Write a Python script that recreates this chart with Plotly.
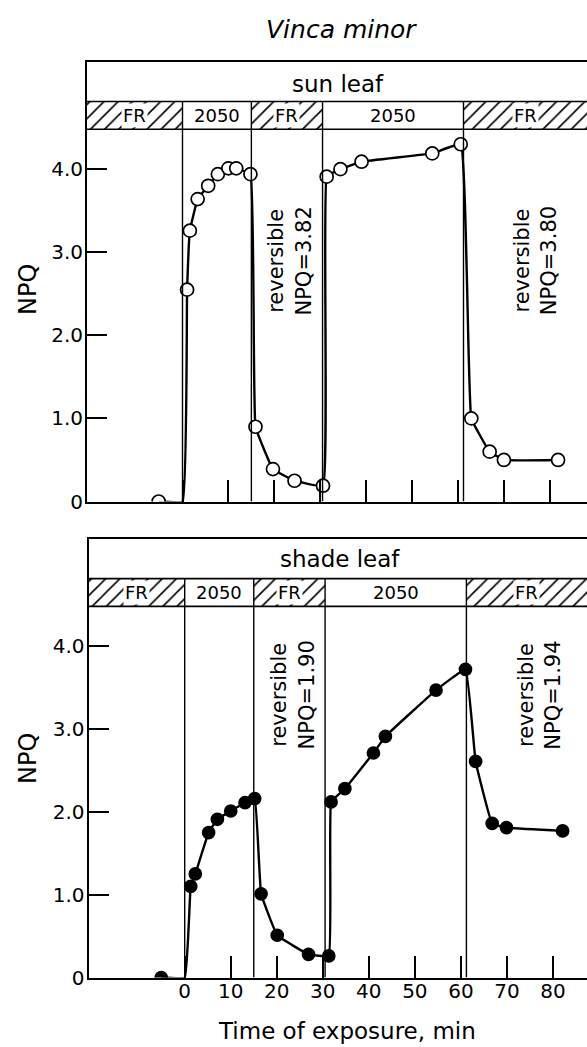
import plotly.graph_objects as go

# ---------------- data ----------------
sun_t = [-5.2, 1.0, 1.6, 3.3, 5.6, 7.7, 10.0, 11.7, 14.8, 15.9, 19.7, 24.4,
         30.6, 31.4, 34.4, 39.0, 54.4, 60.6, 62.9, 66.9, 70.0, 81.8]
sun_npq = [0.0, 2.55, 3.26, 3.64, 3.80, 3.94, 4.01, 4.01, 3.94, 0.90, 0.39, 0.25,
           0.19, 3.91, 4.00, 4.09, 4.19, 4.30, 1.00, 0.60, 0.50, 0.50]

shade_t = [-5.1, 1.3, 2.3, 5.2, 7.1, 10.0, 13.1, 15.2, 16.6, 20.1, 26.9, 31.3,
           31.8, 34.8, 41.0, 43.6, 54.6, 61.0, 63.2, 66.8, 69.9, 82.1]
shade_npq = [0.0, 1.10, 1.25, 1.75, 1.91, 2.01, 2.11, 2.16, 1.01, 0.51, 0.28, 0.26,
             2.12, 2.28, 2.71, 2.91, 3.47, 3.72, 2.61, 1.86, 1.81, 1.77]

# light switched on at t = 0 (curve leaves the baseline there)
onset_t = [0.0]
onset_npq = [0.0]

# light regime boundaries (min) and labels
phase_bounds = [0.0, 15.0, 30.5, 61.2]
phase_labels = ["FR", "2050", "FR", "2050", "FR"]
reversible = [["3.82", "3.80"], ["1.90", "1.94"]]

x_ticks = [0, 10, 20, 30, 40, 50, 60, 70, 80]
x_ticktext = ["0", "10", "20", "30", "40", "50", "60", "70", "80"]
y_ticks = [0, 1, 2, 3, 4]
y_ticktext = ["0", "1.0", "2.0", "3.0", "4.0"]

panel_titles = ["sun leaf", "shade leaf"]

# ---------------- layout helpers ----------------
W, H = 587, 1047
FONT = "DejaVu Sans"


def px(x):
    return x / W


def py(y):
    return 1 - y / H


Y_TOP = 5.29
BAND_LO, BAND_HI = 4.48, 4.815

panels = [
    dict(t=sun_t, v=sun_npq, xr=[-20.8, 88.1], dom_x=[87 / W, 1],
         dom_y=[py(501.5), py(62)], filled=False, xa="x", ya="y"),
    dict(t=shade_t, v=shade_npq, xr=[-20.9, 87.4], dom_x=[88.5 / W, 1],
         dom_y=[py(977.5), py(539.3)], filled=True, xa="x2", ya="y2"),
]

fig = go.Figure()
shapes = []
annotations = []

for i, p in enumerate(panels):
    xa, ya = p["xa"], p["ya"]
    lo, hi = p["xr"]
    edges = [lo] + phase_bounds + [hi]
    # band segments
    for k, lab in enumerate(phase_labels):
        a, b = edges[k], edges[k + 1]
        if lab == "FR":
            fig.add_trace(go.Scatter(
                x=[a, b, b, a, a], y=[BAND_LO, BAND_LO, BAND_HI, BAND_HI, BAND_LO],
                xaxis=xa, yaxis=ya, mode="lines", line=dict(width=0),
                fill="toself", fillcolor="white",
                fillpattern=dict(shape="/", size=10, solidity=0.16,
                                 fgcolor="black", bgcolor="white", fillmode="replace"),
                hoverinfo="skip", showlegend=False))
        annotations.append(dict(
            x=(a + b) / 2, y=(BAND_LO + BAND_HI) / 2, xref=xa, yref=ya,
            text=lab, showarrow=False, font=dict(family=FONT, size=18, color="black"),
            bgcolor="white" if lab == "FR" else None, borderpad=1,
            xanchor="center", yanchor="middle"))
    # band horizontal lines
    for yy in (BAND_LO, BAND_HI):
        shapes.append(dict(type="line", xref=xa, yref=ya, x0=lo, x1=hi, y0=yy, y1=yy,
                           line=dict(color="black", width=1.6), layer="above"))
    # phase boundary verticals
    for b in phase_bounds:
        shapes.append(dict(type="line", xref=xa, yref=ya, x0=b, x1=b, y0=0, y1=BAND_HI,
                           line=dict(color="black", width=1.4), layer="above"))

    # curve (with onset vertex) and markers
    pts = sorted(list(zip(p["t"], p["v"])) + list(zip(onset_t, onset_npq)))
    fig.add_trace(go.Scatter(
        x=[q[0] for q in pts], y=[q[1] for q in pts], xaxis=xa, yaxis=ya,
        mode="lines", line=dict(color="black", width=2.4, shape="spline", smoothing=0.25),
        hoverinfo="skip", showlegend=False))
    fig.add_trace(go.Scatter(
        x=p["t"], y=p["v"], xaxis=xa, yaxis=ya, mode="markers",
        marker=dict(size=12 if p["filled"] else 13,
                    color="black" if p["filled"] else "white",
                    line=dict(color="black", width=1.7)),
        showlegend=False))

    # panel title
    annotations.append(dict(
        x=px(338 if i == 0 else 340), y=py(84 if i == 0 else 559), xref="paper", yref="paper",
        text=panel_titles[i], showarrow=False, font=dict(family=FONT, size=23, color="black"),
        xanchor="center", yanchor="middle"))
    # NPQ axis label
    annotations.append(dict(
        x=px(28), y=py(290 if i == 0 else 759), xref="paper", yref="paper",
        text="NPQ", textangle=-90, showarrow=False,
        font=dict(family=FONT, size=24, color="black"),
        xanchor="center", yanchor="middle"))
    # reversible annotations
    for j, xt in enumerate([23.4, 76.9]):
        annotations.append(dict(
            x=xt, y=2.9 if i == 0 else 3.41, xref=xa, yref=ya,
            text="reversible<br>NPQ=" + reversible[i][j], textangle=-90, showarrow=False,
            font=dict(family=FONT, size=21, color="black"),
            xanchor="center", yanchor="middle"))

axis_common = dict(showgrid=False, zeroline=False, showline=True, linecolor="black",
                   linewidth=2, ticks="inside", tickcolor="black", tickwidth=1.7,
                   automargin=False, fixedrange=True,
                   tickfont=dict(family=FONT, size=20, color="black"))

layout = dict(width=W, height=H, margin=dict(l=0, r=0, t=0, b=0),
              paper_bgcolor="white", plot_bgcolor="white", showlegend=False,
              shapes=shapes)

for i, p in enumerate(panels):
    xk = "xaxis" if i == 0 else "xaxis2"
    yk = "yaxis" if i == 0 else "yaxis2"
    layout[xk] = dict(axis_common, domain=p["dom_x"], range=p["xr"], anchor=p["ya"],
                      tickvals=x_ticks, ticktext=x_ticktext, ticklen=22,
                      showticklabels=(i == 1), mirror=True, ticklabelstandoff=-6)
    layout[yk] = dict(axis_common, domain=p["dom_y"], range=[0, Y_TOP], anchor=p["xa"],
                      tickvals=y_ticks, ticktext=y_ticktext, ticklen=20,
                      ticklabelstandoff=-2)

annotations.append(dict(
    x=px(341), y=py(29), xref="paper", yref="paper", text="<i>Vinca minor</i>",
    showarrow=False, font=dict(family=FONT, size=25, color="black"),
    xanchor="center", yanchor="middle"))
annotations.append(dict(
    x=px(346.5), y=py(1045), xref="paper", yref="paper", text="Time of exposure, min",
    showarrow=False, font=dict(family=FONT, size=23, color="black"),
    xanchor="center", yanchor="bottom", borderpad=0))

layout["annotations"] = annotations
fig.update_layout(**layout)
fig.write_html("out.html")
